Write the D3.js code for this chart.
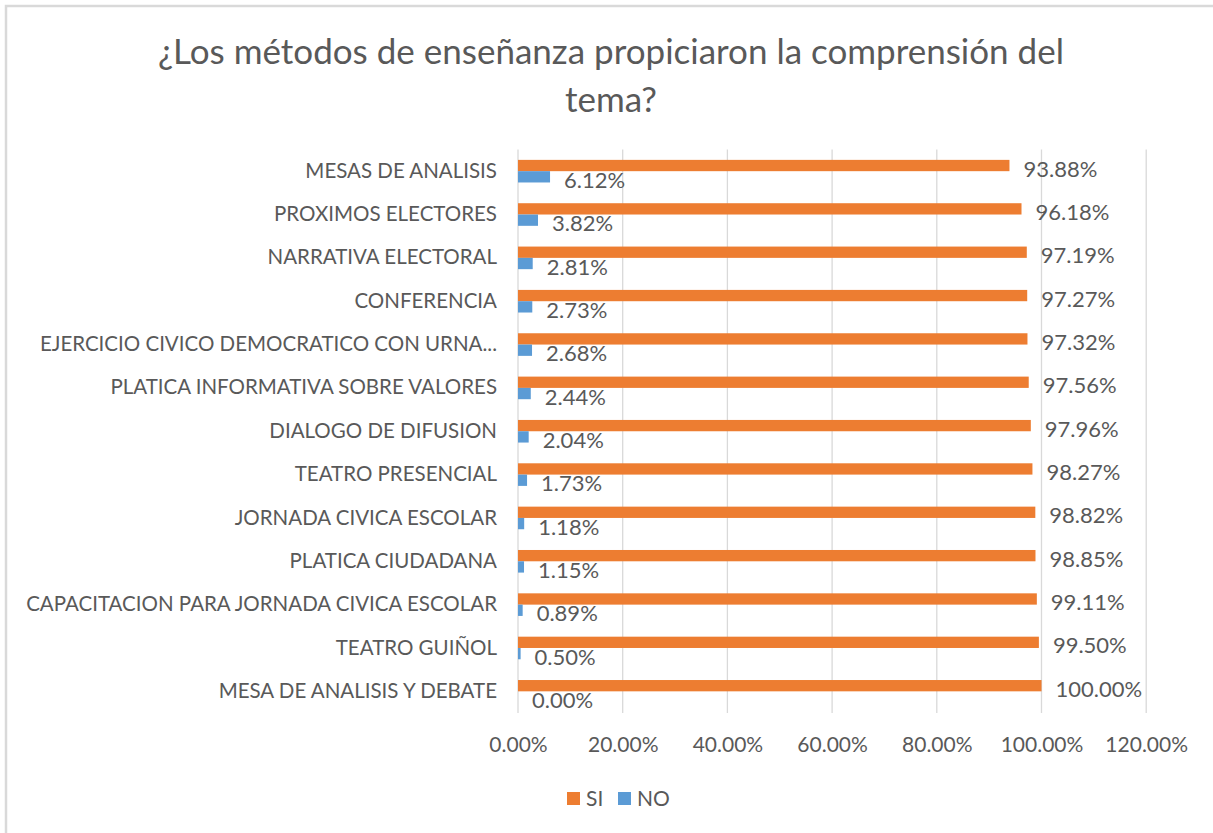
<!DOCTYPE html>
<html>
<head>
<meta charset="utf-8">
<script src="https://cdn.jsdelivr.net/npm/d3@7.9.0/dist/d3.min.js"></script>
<style>
  body { margin: 0; background: #fff; }
  svg { display: block; font-family: Lato, "Open Sans", sans-serif; }
</style>
</head>
<body>
<svg width="1213" height="833"></svg>
<script>
const categories = [
  'MESAS DE ANALISIS',
  'PROXIMOS ELECTORES',
  'NARRATIVA ELECTORAL',
  'CONFERENCIA',
  'EJERCICIO CIVICO DEMOCRATICO CON URNA...',
  'PLATICA INFORMATIVA SOBRE VALORES',
  'DIALOGO DE DIFUSION',
  'TEATRO PRESENCIAL',
  'JORNADA CIVICA ESCOLAR',
  'PLATICA CIUDADANA',
  'CAPACITACION PARA JORNADA CIVICA ESCOLAR',
  'TEATRO GUIÑOL',
  'MESA DE ANALISIS Y DEBATE'
];
const siValues = [93.88, 96.18, 97.19, 97.27, 97.32, 97.56, 97.96, 98.27, 98.82, 98.85, 99.11, 99.50, 100.00];
const noValues = [6.12, 3.82, 2.81, 2.73, 2.68, 2.44, 2.04, 1.73, 1.18, 1.15, 0.89, 0.50, 0.00];
const xTicks = [0, 20, 40, 60, 80, 100, 120];
const seriesNames = ['SI', 'NO'];
const colors = { SI: '#ED7D31', NO: '#5B9BD5' };

const textColor = '#595959';
const svg = d3.select('svg');

// chart frame
svg.append('rect')
  .attr('x', 6).attr('y', 6)
  .attr('width', 1240).attr('height', 860)
  .attr('fill', 'none')
  .attr('stroke', '#d9d9d9')
  .attr('stroke-width', 2.5);

// title
const title = svg.append('text')
  .attr('text-anchor', 'middle')
  .attr('fill', textColor)
  .style('font-size', '35px');
title.append('tspan').attr('x', 611).attr('y', 64)
  .text('¿Los métodos de enseñanza propiciaron la comprensión del');
title.append('tspan').attr('x', 611).attr('y', 112).text('tema?');

const margin = { left: 518, top: 149.5 };
const plotH = 563.5;

const x = d3.scaleLinear().domain([0, 120]).range([margin.left, margin.left + 628.2]);
const y = d3.scaleBand().domain(categories).range([margin.top, margin.top + plotH]);
const barH = 11.3;

// gridlines
svg.append('g').selectAll('line')
  .data(xTicks)
  .join('line')
  .attr('x1', d => x(d)).attr('x2', d => x(d))
  .attr('y1', margin.top).attr('y2', margin.top + plotH)
  .attr('stroke', '#d9d9d9')
  .attr('stroke-width', 1.3);

// x axis labels
const xAxis = d3.axisBottom(x)
  .tickValues(xTicks)
  .tickFormat(d => d.toFixed(2) + '%')
  .tickSize(0)
  .tickPadding(0);
const gx = svg.append('g')
  .attr('transform', `translate(0,${margin.top + plotH})`)
  .call(xAxis);
gx.select('.domain').remove();
gx.selectAll('text')
  .attr('dy', 0).attr('y', 39)
  .attr('fill', textColor)
  .style('font-size', '21px')
  .style('font-family', 'Lato, sans-serif');

// category labels
const yAxis = d3.axisLeft(y).tickSize(0).tickPadding(21);
const gy = svg.append('g')
  .attr('transform', `translate(${margin.left},0)`)
  .call(yAxis);
gy.select('.domain').remove();
gy.selectAll('text')
  .attr('fill', textColor)
  .style('font-size', '20.5px')
  .style('font-family', 'Lato, sans-serif');

// bars
const rows = categories.map((c, i) => ({ cat: c, SI: siValues[i], NO: noValues[i] }));
const groups = svg.append('g').selectAll('g')
  .data(rows)
  .join('g')
  .attr('transform', d => `translate(0,${y(d.cat) + y.bandwidth() / 2})`);

seriesNames.forEach((s, k) => {
  const top = k === 0 ? -barH : 0;
  groups.append('rect')
    .attr('x', x(0))
    .attr('y', top)
    .attr('width', d => x(d[s]) - x(0))
    .attr('height', barH)
    .attr('fill', colors[s]);
  groups.append('text')
    .attr('x', d => x(d[s]) + 14)
    .attr('y', top + barH / 2)
    .attr('dy', '0.5em')
    .attr('fill', textColor)
    .style('font-size', '22px')
    .text(d => d[s].toFixed(2) + '%');
});

// legend
const legend = svg.append('g').attr('transform', 'translate(567,792)');
const legendX = [0, 51];
seriesNames.forEach((s, k) => {
  const g = legend.append('g').attr('transform', `translate(${legendX[k]},0)`);
  g.append('rect').attr('width', 13).attr('height', 13).attr('fill', colors[s]);
  g.append('text')
    .attr('x', 19).attr('y', 6.5).attr('dy', '0.36em')
    .attr('fill', textColor)
    .style('font-size', '21px')
    .text(s);
});
</script>
</body>
</html>
